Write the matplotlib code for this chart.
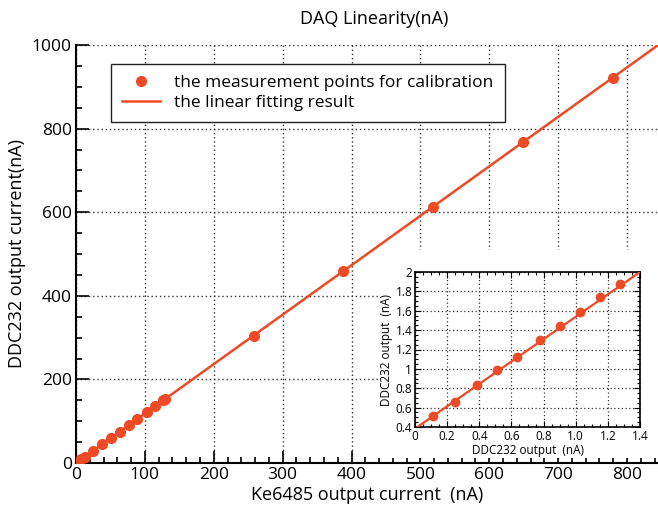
import numpy as np
import matplotlib
matplotlib.use("Agg")
import matplotlib.pyplot as plt
from matplotlib.patches import Rectangle
from matplotlib.ticker import MultipleLocator

plt.rcParams['font.family'] = ['Open Sans', 'DejaVu Sans']

# ---- data ----
main_x = [0.5, 2.6, 5.2, 7.8, 13, 25, 38, 51, 64, 77, 89, 102.6, 115, 127, 129,
          258, 388, 519, 649, 779]
main_y = [0.6, 3.0, 6.0, 9.2, 14, 29.5, 44.6, 60.6, 75, 91, 106, 121, 137, 151, 153,
          305, 459, 613, 768, 921]
main_fit_slope = 1.183
main_fit_intercept = 0.0

inset_x = [0.11, 0.249, 0.388, 0.512, 0.633, 0.776, 0.905, 1.025, 1.153, 1.278]
inset_y = [0.514, 0.663, 0.832, 0.984, 1.126, 1.295, 1.444, 1.585, 1.744, 1.872]
inset_fit_slope = 1.155
inset_fit_intercept = 0.383

inset_xticks = [0, 0.2, 0.4, 0.6, 0.8, 1.0, 1.2, 1.4]
inset_xticklabels = ["0", "0.2", "0.4", "0.6", "0.8", "1.0", "1.2", "1.4"]
inset_yticks = [0.4, 0.6, 0.8, 1.0, 1.2, 1.4, 1.6, 1.8, 2.0]
inset_yticklabels = ["0.4", "0.6", "0.8", "1", "1.2", "1.4", "1.6", "1.8", "2"]

color = '#EE4A26'

fig = plt.figure(figsize=(6.58, 5.09), dpi=100)

# ---- main axes ----
ax = fig.add_axes([76/658, 46/509, 1 - 76/658, (463-45)/509])
xmax, ymax = 845, 1000
ax.set_xlim(0, xmax)
ax.set_ylim(0, ymax)
fx = np.array([0, xmax])
ax.plot(fx, main_fit_slope*fx + main_fit_intercept, color=color, lw=1.8,
        label='the linear fitting result', zorder=3)
ax.plot(main_x, main_y, 'o', color=color, ms=7, mec=color,
        label='the measurement points for calibration', zorder=4)

ax.xaxis.set_major_locator(MultipleLocator(100))
ax.xaxis.set_minor_locator(MultipleLocator(20))
ax.yaxis.set_major_locator(MultipleLocator(200))
ax.yaxis.set_minor_locator(MultipleLocator(50))
ax.tick_params(which='both', direction='in', top=False, right=False,
               labelsize=12.5, width=1.2, pad=3)
ax.tick_params(which='major', length=9)
ax.tick_params(which='minor', length=4.5)
for s in ['top', 'right']:
    ax.spines[s].set_visible(False)
for s in ['left', 'bottom']:
    ax.spines[s].set_linewidth(1.5)
ax.grid(True, which='major', linestyle=(0, (1, 2)), color='#333333', lw=1.0)
ax.set_axisbelow(True)

ax.set_xlabel('Ke6485 output current  (nA)', fontsize=13, labelpad=2)
ax.set_ylabel('DDC232 output current(nA)', fontsize=13, labelpad=4)
fig.text(374/658, 1 - 19/509, 'DAQ Linearity(nA)', ha='center', va='center',
         fontsize=13)

h, l = ax.get_legend_handles_labels()
leg = ax.legend(h[::-1], l[::-1], loc='upper left',
                bbox_to_anchor=(111/658, 1 - 64/509), bbox_transform=fig.transFigure,
                fontsize=12.5, frameon=True, fancybox=False, framealpha=1,
                edgecolor='#222222', borderpad=0.65, handlelength=2.2,
                labelspacing=0.2, borderaxespad=0)
leg.get_frame().set_linewidth(1.0)

# white background behind inset
fig.patches.append(Rectangle((378/658, 1 - 458/509), (658-378)/658, (458-250)/509,
                             transform=fig.transFigure, facecolor='white',
                             edgecolor='none', zorder=1))

# ---- inset ----
axi = fig.add_axes([415/658, 1 - 427/509, (640-415)/658, (427-272)/509], zorder=2)
axi.set_xlim(0, 1.4)
axi.set_ylim(0.4, 2.0)
ix = np.array([0, 1.4])
axi.plot(ix, inset_fit_slope*ix + inset_fit_intercept, color=color, lw=1.6, zorder=3)
axi.plot(inset_x, inset_y, 'o', color=color, ms=6, zorder=4)
axi.set_xticks(inset_xticks)
axi.set_xticklabels(inset_xticklabels)
axi.set_yticks(inset_yticks)
axi.set_yticklabels(inset_yticklabels)
axi.xaxis.set_minor_locator(MultipleLocator(0.05))
axi.yaxis.set_minor_locator(MultipleLocator(0.05))
axi.tick_params(which='both', direction='in', top=True, right=True,
                labelsize=8.5, width=0.8, pad=2)
axi.tick_params(which='major', length=4)
axi.tick_params(which='minor', length=2)
for s in axi.spines.values():
    s.set_linewidth(1.2)
axi.grid(True, which='major', linestyle=(0, (1, 2)), color='#333333', lw=0.9)
axi.set_axisbelow(True)
axi.set_xlabel('DDC232 output  (nA)', fontsize=8.5, labelpad=1)
axi.set_ylabel('DDC232 output  (nA)', fontsize=8.5, labelpad=2)

fig.savefig('out.png', dpi=100)
